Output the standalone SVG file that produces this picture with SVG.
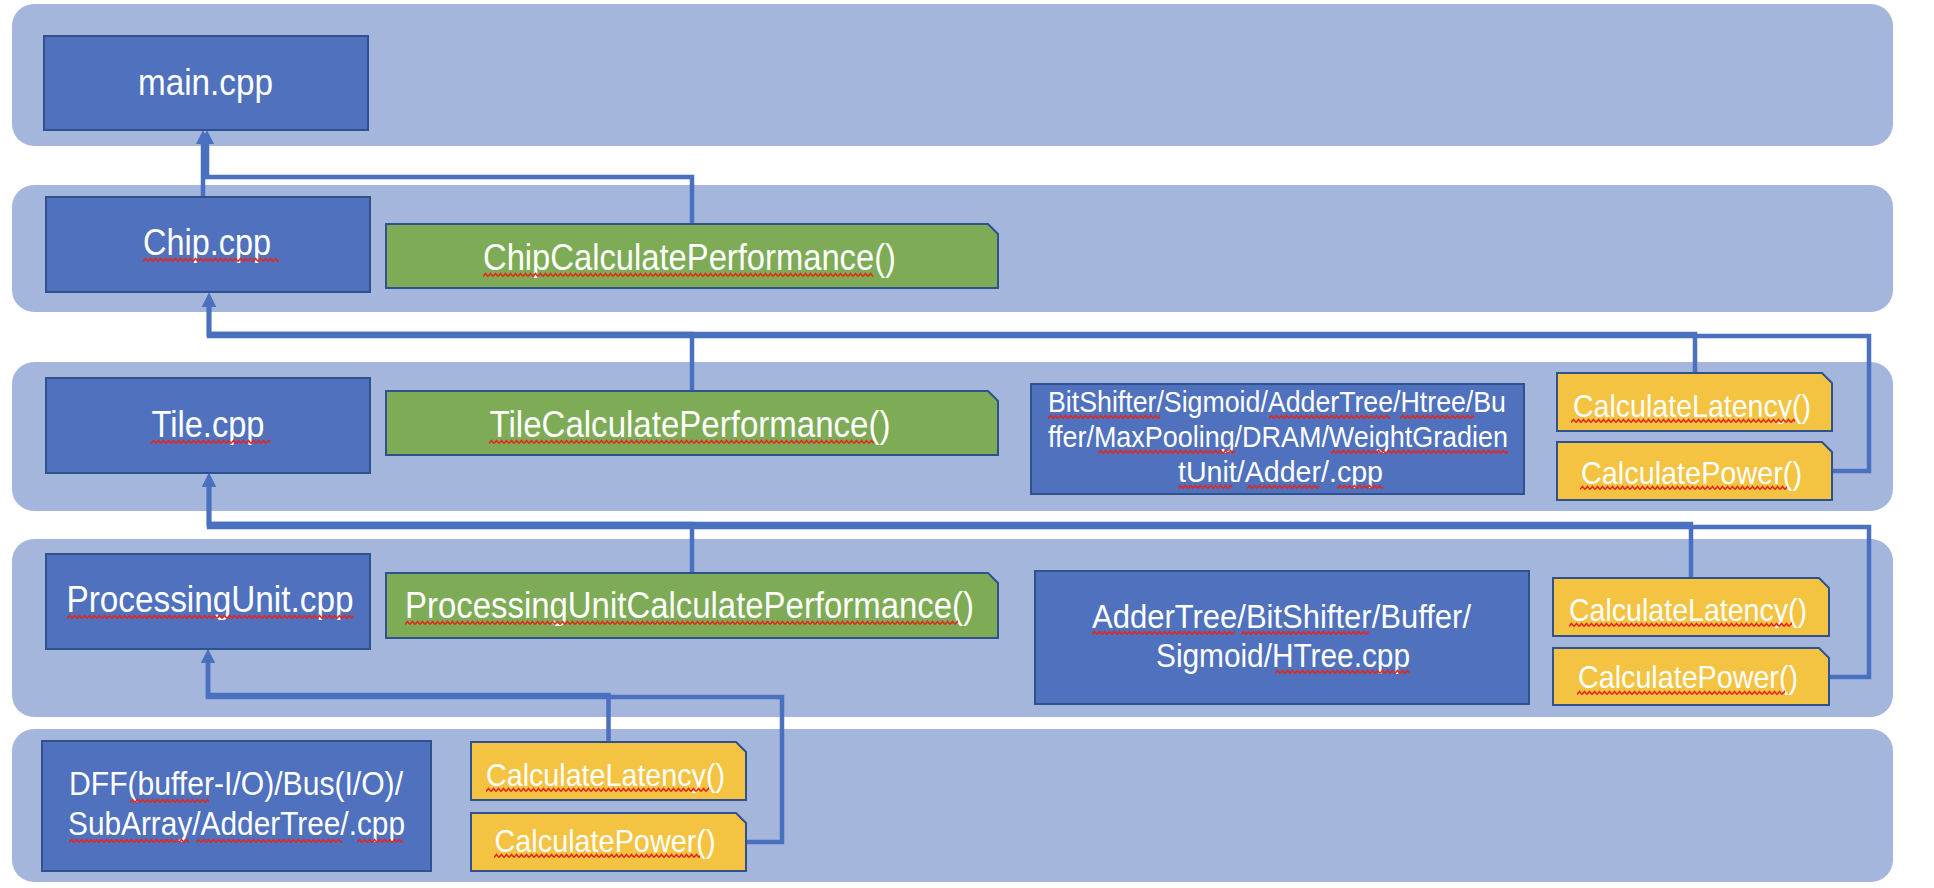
<svg xmlns="http://www.w3.org/2000/svg" width="1934" height="888" viewBox="0 0 1934 888">
<style>
.band{fill:#A5B6DD;stroke:none}
.box{fill:#4F71BE;stroke:#2F528F;stroke-width:2}
.grn{fill:#7EAB55;stroke:#2F528F;stroke-width:2}
.yel{fill:#F5C342;stroke:#2F528F;stroke-width:2}
.t{font-family:"Liberation Sans",Arial,sans-serif;fill:#FFFFFF;text-anchor:middle}
.t33{font-size:36px}
.t31{font-size:34px}
.t30{font-size:33px}
.t29{font-size:32px}
.t27{font-size:29.5px}
.c{fill:none;stroke:#4A70C0;stroke-width:4.5;marker-end:url(#ah)}
.sq{fill:url(#sq)}
</style>
<defs>
<marker id="ah" markerUnits="userSpaceOnUse" viewBox="0 0 14 14" markerWidth="14" markerHeight="14" refX="4" refY="7" orient="auto">
<path d="M0,0 L14,7 L0,14 z" fill="#4A70C0"/>
</marker>
<pattern id="sq" patternUnits="userSpaceOnUse" width="5" height="6">
<path d="M0,4.5 L2.5,1.5 L5,4.5" fill="none" stroke="#E3261D" stroke-width="1.5"/>
</pattern>
</defs>
<g id="bands">
<rect class="band" x="12" y="4" width="1881" height="142" rx="22" ry="22"/>
<rect class="band" x="12" y="185" width="1881" height="127" rx="22" ry="22"/>
<rect class="band" x="12" y="362" width="1881" height="149" rx="22" ry="22"/>
<rect class="band" x="12" y="539" width="1881" height="178" rx="22" ry="22"/>
<rect class="band" x="12" y="729" width="1881" height="153" rx="22" ry="22"/>
</g>
<g id="connectors">
<path class="c" d="M203,197 V140"/>
<path class="c" d="M692,224 V177 H207 V140"/>
<path class="c" d="M692,391 V334 H209 V303"/>
<path class="c" d="M1695,373 V334 H209 V303"/>
<path class="c" d="M1832,471 H1869 V336 H209 V303"/>
<path class="c" d="M692,573 V524 H209 V483"/>
<path class="c" d="M1691,578 V524 H209 V483"/>
<path class="c" d="M1829,677 H1869 V527 H209 V483"/>
<path class="c" d="M608.5,742 V695 H208 V659"/>
<path class="c" d="M746,842 H782 V697 H208 V659"/>
</g>
<g id="main">
<rect class="box" x="44" y="36" width="324" height="94"/>
<text class="t t33" x="205.5" y="95" textLength="135" lengthAdjust="spacingAndGlyphs">main.cpp</text>
</g>
<g id="chip">
<rect class="box" x="46" y="197" width="324" height="95"/>
<text class="t t33" x="207" y="255" textLength="128" lengthAdjust="spacingAndGlyphs">Chip.cpp</text>
<rect class="sq" transform="translate(143,257)" width="136" height="6"/>
</g>
<g id="chipcalc">
<path class="grn" d="M386,224 H988 L998,234 V288 H386 Z"/>
<text class="t t33" x="689.5" y="270" textLength="413" lengthAdjust="spacingAndGlyphs">ChipCalculatePerformance()</text>
<rect class="sq" transform="translate(483,272)" width="390" height="6"/>
</g>
<g id="tile">
<rect class="box" x="46" y="378" width="324" height="95"/>
<text class="t t33" x="208" y="437" textLength="113" lengthAdjust="spacingAndGlyphs">Tile.cpp</text>
<rect class="sq" transform="translate(151,439)" width="119" height="6"/>
</g>
<g id="tilecalc">
<path class="grn" d="M386,391 H988 L998,401 V455 H386 Z"/>
<text class="t t33" x="690" y="437" textLength="401" lengthAdjust="spacingAndGlyphs">TileCalculatePerformance()</text>
<rect class="sq" transform="translate(489,439)" width="385" height="6"/>
</g>
<g id="tileperiph">
<rect class="box" x="1031" y="384" width="493" height="110"/>
<text class="t t27" x="1277" y="412" textLength="458" lengthAdjust="spacingAndGlyphs">BitShifter/Sigmoid/AdderTree/Htree/Bu</text>
<text class="t t27" x="1278" y="447" textLength="460" lengthAdjust="spacingAndGlyphs">ffer/MaxPooling/DRAM/WeightGradien</text>
<text class="t t27" x="1280.5" y="482" textLength="205" lengthAdjust="spacingAndGlyphs">tUnit/Adder/.cpp</text>
<rect class="sq" transform="translate(1048,414)" width="112" height="6"/>
<rect class="sq" transform="translate(1269,414)" width="121" height="6"/>
<rect class="sq" transform="translate(1400,414)" width="74" height="6"/>
<rect class="sq" transform="translate(1098,449)" width="137" height="6"/>
<rect class="sq" transform="translate(1331,449)" width="177" height="6"/>
<rect class="sq" transform="translate(1178,484)" width="54" height="6"/>
<rect class="sq" transform="translate(1247,484)" width="72" height="6"/>
<rect class="sq" transform="translate(1337,484)" width="46" height="6"/>
</g>
<g id="tilelat">
<path class="yel" d="M1557,373 H1822 L1832,383 V431 H1557 Z"/>
<text class="t t29" x="1692" y="417" textLength="238" lengthAdjust="spacingAndGlyphs">CalculateLatency()</text>
<rect class="sq" transform="translate(1571,418)" width="224" height="6"/>
</g>
<g id="tilepow">
<path class="yel" d="M1557,442 H1822 L1832,452 V500 H1557 Z"/>
<text class="t t29" x="1691.5" y="484" textLength="221" lengthAdjust="spacingAndGlyphs">CalculatePower()</text>
<rect class="sq" transform="translate(1580,485)" width="207" height="6"/>
</g>
<g id="pu">
<rect class="box" x="46" y="554" width="324" height="95"/>
<text class="t t33" x="210" y="612" textLength="287" lengthAdjust="spacingAndGlyphs">ProcessingUnit.cpp</text>
<rect class="sq" transform="translate(67,614)" width="287" height="6"/>
</g>
<g id="pucalc">
<path class="grn" d="M386,573 H988 L998,583 V638 H386 Z"/>
<text class="t t33" x="689.5" y="618" textLength="569" lengthAdjust="spacingAndGlyphs">ProcessingUnitCalculatePerformance()</text>
<rect class="sq" transform="translate(405,620)" width="553" height="6"/>
</g>
<g id="puperiph">
<rect class="box" x="1035" y="571" width="494" height="133"/>
<text class="t t31" x="1281.5" y="628" textLength="379" lengthAdjust="spacingAndGlyphs">AdderTree/BitShifter/Buffer/</text>
<text class="t t31" x="1283" y="667" textLength="254" lengthAdjust="spacingAndGlyphs">Sigmoid/HTree.cpp</text>
<rect class="sq" transform="translate(1092,630)" width="143" height="6"/>
<rect class="sq" transform="translate(1241,630)" width="128" height="6"/>
<rect class="sq" transform="translate(1275,669)" width="135" height="6"/>
</g>
<g id="pulat">
<path class="yel" d="M1553,578 H1819 L1829,588 V636 H1553 Z"/>
<text class="t t29" x="1688" y="621" textLength="238" lengthAdjust="spacingAndGlyphs">CalculateLatency()</text>
<rect class="sq" transform="translate(1569,622)" width="223" height="6"/>
</g>
<g id="pupow">
<path class="yel" d="M1553,648 H1819 L1829,658 V705 H1553 Z"/>
<text class="t t29" x="1688" y="688" textLength="220" lengthAdjust="spacingAndGlyphs">CalculatePower()</text>
<rect class="sq" transform="translate(1577,690)" width="208" height="6"/>
</g>
<g id="dff">
<rect class="box" x="42" y="741" width="389" height="130"/>
<text class="t t30" x="236" y="795" textLength="334" lengthAdjust="spacingAndGlyphs">DFF(buffer-I/O)/Bus(I/O)/</text>
<text class="t t30" x="236.5" y="835" textLength="337" lengthAdjust="spacingAndGlyphs">SubArray/AdderTree/.cpp</text>
<rect class="sq" transform="translate(130,798)" width="79" height="6"/>
<rect class="sq" transform="translate(69,838)" width="120" height="6"/>
<rect class="sq" transform="translate(196,838)" width="146" height="6"/>
<rect class="sq" transform="translate(357,838)" width="46" height="6"/>
</g>
<g id="botlat">
<path class="yel" d="M471,742 H736 L746,752 V800 H471 Z"/>
<text class="t t29" x="605.5" y="786" textLength="239" lengthAdjust="spacingAndGlyphs">CalculateLatency()</text>
<rect class="sq" transform="translate(486,787)" width="223" height="6"/>
</g>
<g id="botpow">
<path class="yel" d="M471,813 H736 L746,823 V871 H471 Z"/>
<text class="t t29" x="605" y="852" textLength="221" lengthAdjust="spacingAndGlyphs">CalculatePower()</text>
<rect class="sq" transform="translate(494,853)" width="206" height="6"/>
</g>
</svg>
